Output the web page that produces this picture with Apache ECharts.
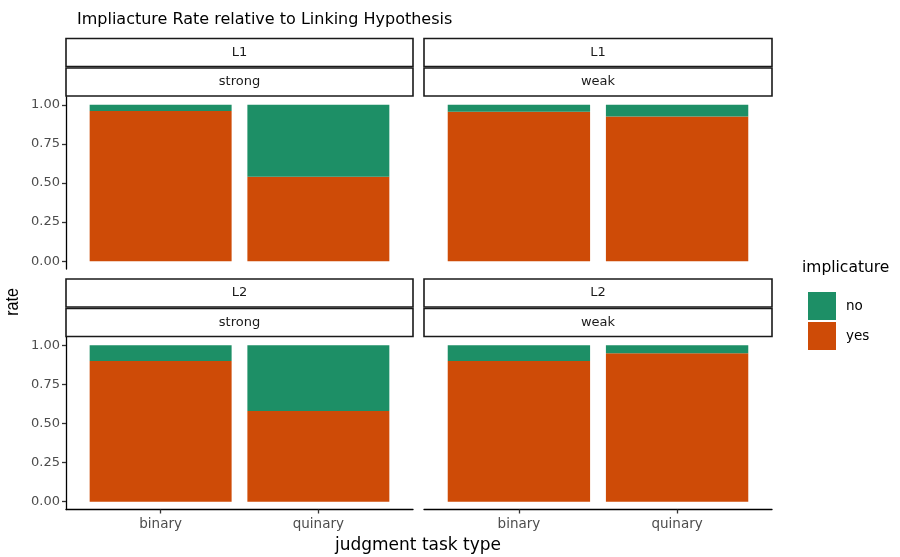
<!DOCTYPE html>
<html>
<head>
<meta charset="utf-8">
<script src="https://cdn.jsdelivr.net/npm/echarts@6/dist/echarts.min.js"></script>
<style>
  html, body { margin: 0; padding: 0; background: #fff; }
  #main { width: 900px; height: 557px; }
</style>
</head>
<body>
<div id="main"></div>
<script>
// facet data (implicature rate, stacked: yes at bottom, no on top)
var taskTypes = ['binary', 'quinary'];
var panelRows = ['L1', 'L1', 'L2', 'L2'];
var panelCols = ['strong', 'weak', 'strong', 'weak'];
var yesRate = [
  [0.96, 0.54],   // L1 strong
  [0.955, 0.925], // L1 weak
  [0.90, 0.58],   // L2 strong
  [0.90, 0.95]    // L2 weak
];
var noRate = [
  [0.04, 0.46],
  [0.045, 0.075],
  [0.10, 0.42],
  [0.10, 0.05]
];
var yTicks = [0, 0.25, 0.5, 0.75, 1];

var colYes = '#CE4B07';
var colNo = '#1D8F66';
var font = 'DejaVu Sans, sans-serif';
var fontNarrow = 'Liberation Sans, Arial, sans-serif';

var dom = document.getElementById('main');
var chart = echarts.init(dom);

// panel boxes
var panels = [
  { left: 66, top: 97, width: 347, height: 172 },
  { left: 424, top: 97, width: 348, height: 172 },
  { left: 66, top: 337.5, width: 347, height: 172 },
  { left: 424, top: 337.5, width: 348, height: 172 }
];

var grids = [], xAxes = [], yAxes = [], series = [], graphics = [];

// grids 0-3: bars on a category axis (discrete scale, inset like ggplot's 0.6 expansion)
panels.forEach(function (p, i) {
  var inset = p.width * 0.1 / 2.2;
  grids.push({ left: p.left + inset, top: p.top, width: p.width - 2 * inset, height: p.height });
  xAxes.push({
    type: 'category',
    gridIndex: i,
    data: taskTypes,
    axisLine: { show: false, onZero: false },
    axisTick: { show: i >= 2, alignWithLabel: true, length: 4, lineStyle: { color: '#333', width: 1.3 } },
    axisLabel: { show: i >= 2, margin: 8, color: '#4d4d4d', fontSize: 13.5, fontFamily: font }
  });
  yAxes.push({
    type: 'value', gridIndex: i, min: -0.05, max: 1.05, show: false
  });
  var bw = p.width * 0.9 / 2.2;
  series.push({
    name: 'yes', type: 'bar', xAxisIndex: i, yAxisIndex: i, stack: 'p' + i,
    barWidth: bw, itemStyle: { color: colYes }, silent: true, data: yesRate[i]
  });
  series.push({
    name: 'no', type: 'bar', xAxisIndex: i, yAxisIndex: i, stack: 'p' + i,
    barWidth: bw, itemStyle: { color: colNo }, silent: true, data: noRate[i]
  });
});

// grids 4-7: panel frame with the full-width axis lines and the y scale
panels.forEach(function (p, i) {
  var g = i + 4;
  var isLeft = (i % 2 === 0);
  var isBottom = (i >= 2);
  grids.push({ left: p.left, top: p.top, width: p.width, height: p.height });
  xAxes.push({
    type: 'value', gridIndex: g, min: 0.4, max: 2.6,
    splitLine: { show: false },
    axisLine: { show: isBottom, onZero: false, lineStyle: { color: '#000', width: 1.3 } },
    axisTick: { show: false },
    axisLabel: { show: false }
  });
  yAxes.push({
    type: 'value', gridIndex: g, min: -0.05, max: 1.05,
    splitLine: { show: false },
    axisLine: { show: isLeft, onZero: false, lineStyle: { color: '#000', width: 1.3 } },
    axisTick: { show: isLeft, customValues: yTicks, length: 4, lineStyle: { color: '#333', width: 1.3 } },
    axisLabel: {
      show: isLeft, customValues: yTicks, margin: 6,
      color: '#4d4d4d', fontSize: 13, fontFamily: font,
      formatter: function (v) { return v.toFixed(2); }
    }
  });

  // facet strips (two layers)
  var stripH = 28;
  var labels = [panelRows[i], panelCols[i]];
  var tops = [p.top - 58.5, p.top - 29];
  labels.forEach(function (txt, j) {
    graphics.push({
      type: 'rect',
      shape: { x: p.left, y: tops[j], width: p.width, height: stripH },
      style: { fill: '#fff', stroke: '#1a1a1a', lineWidth: 1.6 }
    });
    graphics.push({
      type: 'text',
      x: p.left + p.width / 2,
      y: tops[j] + stripH / 2,
      style: {
        text: txt, fill: '#1a1a1a', fontSize: 13, fontFamily: font,
        align: 'center', verticalAlign: 'middle'
      }
    });
  });
});

// axis titles and legend title
graphics.push({
  type: 'text', x: 13, y: 302, rotation: Math.PI / 2, scaleY: 1.2,
  style: { text: 'rate', fill: '#000', fontSize: 16, fontFamily: fontNarrow, align: 'center', verticalAlign: 'middle' }
});
graphics.push({
  type: 'text', x: 418, y: 546,
  style: { text: 'judgment task type', fill: '#000', fontSize: 17, fontFamily: font, align: 'center', verticalAlign: 'middle' }
});
graphics.push({
  type: 'text', x: 802, y: 268,
  style: { text: 'implicature', fill: '#000', fontSize: 15.5, fontFamily: font, align: 'left', verticalAlign: 'middle' }
});

var option = {
  animation: false,
  backgroundColor: '#fff',
  title: {
    text: 'Impliacture Rate relative to Linking Hypothesis',
    left: 72,
    top: 7,
    textStyle: { color: '#000', fontSize: 16, fontWeight: 'normal', fontFamily: font }
  },
  legend: {
    data: ['no', 'yes'],
    orient: 'vertical',
    left: 803,
    top: 287,
    icon: 'rect',
    itemWidth: 28,
    itemHeight: 28,
    itemGap: 2,
    selectedMode: false,
    textStyle: { color: '#000', fontSize: 13.5, fontFamily: font, padding: [0, 0, 0, 5] }
  },
  grid: grids,
  xAxis: xAxes,
  yAxis: yAxes,
  series: series,
  graphic: graphics
};

chart.setOption(option);
</script>
</body>
</html>
